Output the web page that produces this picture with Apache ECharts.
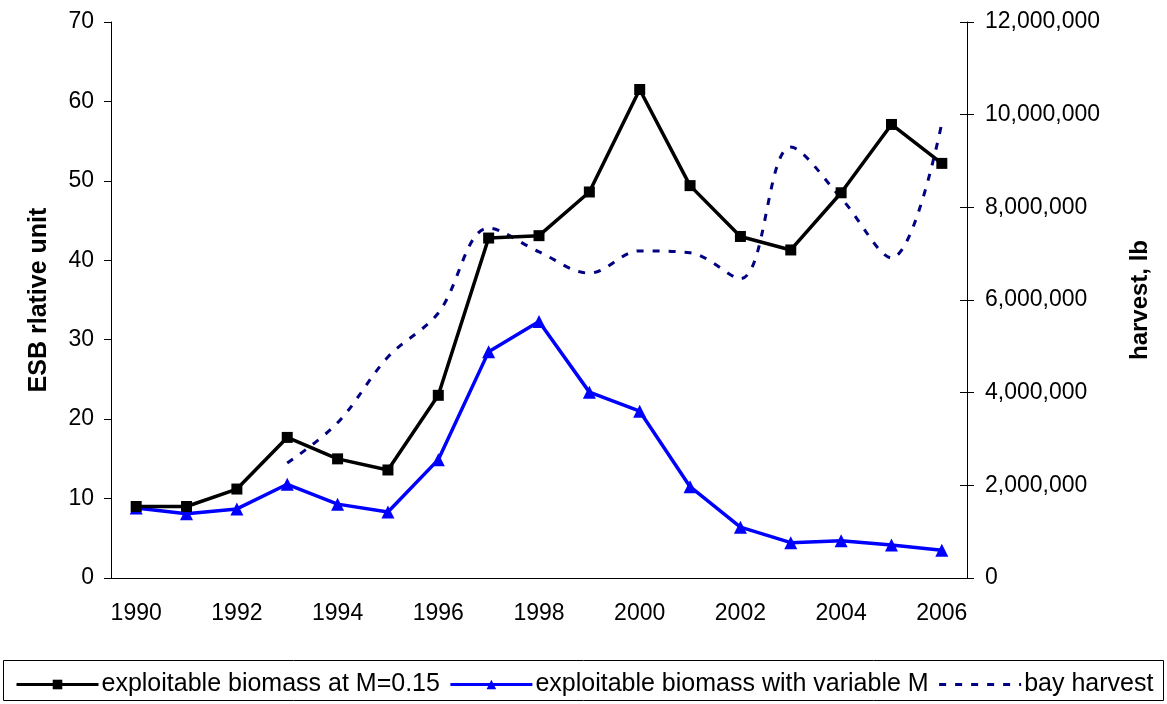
<!DOCTYPE html>
<html>
<head>
<meta charset="utf-8">
<script src="https://cdn.jsdelivr.net/npm/echarts@6/dist/echarts.min.js"></script>
<style>
html,body{margin:0;padding:0;background:#fff;}
#chart{width:1167px;height:704px;}
</style>
</head>
<body>
<div id="chart"></div>
<script>
const years = ['1990','1991','1992','1993','1994','1995','1996','1997','1998','1999','2000','2001','2002','2003','2004','2005','2006'];
const biomassM015 = [9.0, 9.0, 11.2, 17.7, 15.0, 13.6, 23.0, 42.8, 43.1, 48.6, 61.5, 49.4, 43.0, 41.3, 48.5, 57.1, 52.2];
const biomassVarM = [8.8, 8.1, 8.7, 11.8, 9.3, 8.3, 14.9, 28.5, 32.3, 23.4, 21.0, 11.5, 6.4, 4.45, 4.7, 4.15, 3.5];
const bayHarvest = [null, null, null, 2480000, 3350000, 4770000, 5720000, 7550000, 7040000, 6580000, 7060000, 7020000, 6460000, 9300000, 8200000, 6910000, 9820000];
const seriesNames = ['exploitable biomass at M=0.15', 'exploitable biomass with variable M', 'bay harvest'];

const FONT = '"Liberation Sans", Arial, sans-serif';
const chart = echarts.init(document.getElementById('chart'), null, {renderer: 'canvas'});

function fmt(v){ return String(v).replace(/\B(?=(\d{3})+(?!\d))/g, ','); }

chart.setOption({
  backgroundColor: '#ffffff',
  animation: false,
  textStyle: {fontFamily: FONT},
  grid: {left: 111, right: 200, top: 22, bottom: 126, containLabel: false},
  graphic: [{
    type: 'rect', left: 3, top: 660, z: 0,
    shape: {width: 1160, height: 40},
    style: {fill: '#fff', stroke: '#000', lineWidth: 1}
  }],
  legend: {
    left: 10, top: 667,
    itemWidth: 82, itemHeight: 12, itemGap: 9,
    textStyle: {fontFamily: FONT, fontSize: 25, color: '#000', padding: [0,0,0,-2]},
    data: [
      {name: seriesNames[0], lineStyle: {width: 3}},
      {name: seriesNames[1], lineStyle: {width: 3}},
      {name: seriesNames[2], lineStyle: {width: 3}, itemStyle: {opacity: 0}}
    ]
  },
  xAxis: {
    type: 'category', data: years, boundaryGap: true,
    axisLine: {lineStyle: {color: '#000', width: 1}},
    axisTick: {interval: 0, length: 7, lineStyle: {color: '#000'}},
    axisLabel: {interval: 1, margin: 24, fontSize: 23, color: '#000', fontFamily: FONT},
    splitLine: {show: false}
  },
  yAxis: [{
    type: 'value', min: 0, max: 70, interval: 10, position: 'left',
    name: 'ESB rlative unit', nameLocation: 'middle', nameGap: 59, nameRotate: 90,
    nameTextStyle: {fontSize: 25, fontWeight: 'bold', color: '#000', fontFamily: FONT},
    axisLine: {show: true, lineStyle: {color: '#000'}},
    axisTick: {show: true, length: 7, lineStyle: {color: '#000'}},
    axisLabel: {margin: 17, fontSize: 23, color: '#000', fontFamily: FONT},
    splitLine: {show: false}
  }, {
    type: 'value', min: 0, max: 12000000, interval: 2000000, position: 'right',
    name: 'harvest, lb', nameLocation: 'middle', nameGap: 161, nameRotate: 90,
    nameTextStyle: {fontSize: 24, fontWeight: 'bold', color: '#000', fontFamily: FONT},
    axisLine: {show: true, lineStyle: {color: '#000'}},
    axisTick: {show: true, length: 7, lineStyle: {color: '#000'}},
    axisLabel: {margin: 18, fontSize: 23, color: '#000', fontFamily: FONT, formatter: fmt},
    splitLine: {show: false}
  }, {
    type: 'value', min: 0, max: 12000000, interval: 2000000, position: 'right',
    axisLine: {show: false},
    axisTick: {show: true, inside: true, length: 7, lineStyle: {color: '#000'}},
    axisLabel: {show: false},
    splitLine: {show: false}
  }],
  series: [{
    name: seriesNames[0], type: 'line', yAxisIndex: 0, data: biomassM015,
    symbol: 'rect', symbolSize: 11,
    lineStyle: {color: '#000000', width: 3.5},
    itemStyle: {color: '#000000'},
    z: 3
  }, {
    name: seriesNames[1], type: 'line', yAxisIndex: 0, data: biomassVarM,
    symbol: 'triangle', symbolSize: 13,
    lineStyle: {color: '#0000ff', width: 3.5},
    itemStyle: {color: '#0000ff'},
    z: 2
  }, {
    name: seriesNames[2], type: 'line', yAxisIndex: 1, data: bayHarvest,
    symbol: 'none', smooth: 0.35,
    lineStyle: {color: '#000080', width: 3, type: [7, 9]},
    itemStyle: {color: '#000080'},
    z: 1
  }]
});
</script>
</body>
</html>
